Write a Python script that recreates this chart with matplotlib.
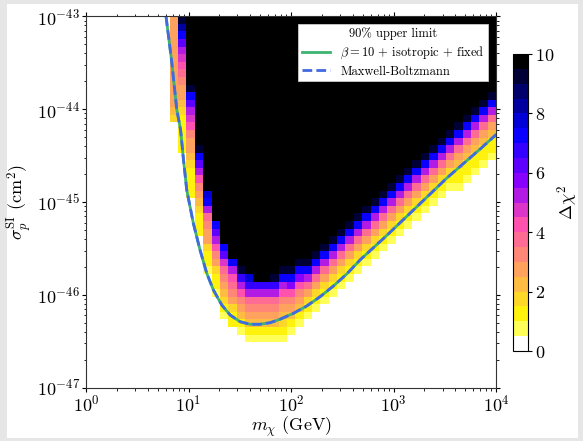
import numpy as np
import matplotlib
matplotlib.use("Agg")
import matplotlib.pyplot as plt
from matplotlib.patches import Rectangle

plt.rcParams["font.family"] = "serif"
plt.rcParams["font.serif"] = ["cmr10"]
plt.rcParams["mathtext.fontset"] = "cm"
plt.rcParams["axes.formatter.use_mathtext"] = True

# grid edges of the delta chi^2 scan
mass_edges = np.logspace(0, 4, 50)
sigma_edges = np.logspace(-47, -43, 50)

# per mass column: first coloured row and the delta chi^2 values going up,
# everything above the listed values is >= 10 (black)
P8 = [0.75, 1.25, 1.75, 2.75, 3.75, 5.25, 7.0, 9.25]
P9 = [0.75, 1.25, 1.25, 2.0, 2.75, 3.75, 5.25, 7.0, 9.25]
band_start = [-1] * 10 + [35, 31, 25, 20, 15, 12, 9, 8, 7, 6, 6, 6, 6, 6, 7, 8, 9] + \
    [i - 17 for i in range(27, 41)] + [24, 25, 26, 26, 27, 28, 29, 30]
band_vals = [[]] * 10 + [
    [1.75, 2.25] + [2.75] * 12,
    [1.25, 1.25, 1.25, 1.25, 1.25, 1.75, 2.25, 2.5, 2.75, 3.0, 3.5, 4.0, 4.75, 5.25, 6.0, 7.25, 8.25, 9.25],
    [1.25, 1.25, 1.25, 1.25, 1.5, 2.0, 2.5, 2.75, 3.25, 4.0, 4.75, 5.25, 6.0, 7.25, 9.25],
    [1.0, 1.25, 1.25, 1.5, 2.25, 2.75, 3.25, 4.0, 5.25, 6.0, 7.25, 9.25],
    [0.75, 1.25, 1.25, 1.75, 2.5, 2.75, 3.25, 3.75, 5.25, 7.0, 7.75],
    [0.75, 1.25, 1.25, 1.75, 2.5, 3.25, 4.0, 5.25, 6.0, 7.25],
    [0.75, 1.25, 1.5, 2.0, 2.5, 3.0, 3.75, 4.75, 6.0, 7.25],
    [1.0, 1.25, 1.75, 2.5, 3.0, 3.5, 4.0, 5.25, 7.25],
    [0.75, 1.25, 2.0, 2.75, 3.25, 4.0, 5.25, 6.5, 9.0],
    [0.75, 1.25, 2.0, 2.75, 3.25, 3.75, 5.25, 6.75, 7.75],
    [0.75, 1.25, 2.0, 2.75, 3.25, 3.75, 5.25, 6.75, 9.75],
    [0.75, 1.25, 2.0, 2.75, 3.25, 3.75, 5.25, 6.75, 9.75],
    [0.75, 1.25, 2.0, 2.75, 3.25, 3.75, 5.25, 6.75, 9.25],
    [0.75, 1.25, 1.75, 2.25, 2.75, 3.25, 4.0, 5.25, 7.0, 9.25],
    [0.75, 1.25, 2.0, 2.75, 3.25, 4.0, 5.5, 7.25, 9.25],
    [0.75, 1.25, 2.0, 2.75, 3.25, 4.0, 5.5, 7.25, 9.25],
] + [P8] * 18 + [P9] * 5

# 90% upper limit curve
m_lim = [6.03, 6.86, 7.67, 8.37, 8.9, 9.6, 11.14, 12.95, 15.05, 17.46, 21.09,
         25.41, 31.8, 39.8, 49.8, 62.4, 78.1, 105.3, 142.3, 191.9, 258.7, 349.5,
         471.3, 826, 1560, 3300, 6980, 10000]
sigma_lim = [1.0e-43, 3.22e-44, 1.0e-44, 5.96e-45, 2.96e-45, 1.35e-45, 5.90e-46,
             3.04e-46, 1.71e-46, 1.13e-46, 7.78e-47, 6.07e-47, 5.14e-47, 4.82e-47,
             4.82e-47, 5.01e-47, 5.46e-47, 6.32e-47, 7.59e-47, 9.55e-47, 1.245e-46,
             1.68e-46, 2.38e-46, 4.20e-46, 8.20e-46, 1.81e-45, 3.72e-45, 5.33e-45]

n = len(mass_edges) - 1
dchi2 = np.full((n, n), 12.0)
for i in range(n):
    s = band_start[i]
    if s < 0:
        dchi2[:, i] = 0.0
        continue
    dchi2[:s, i] = 0.0
    vals = band_vals[i]
    dchi2[s:s + len(vals), i] = vals[:n - s]

fig = plt.figure(figsize=(5.83, 4.41), dpi=100)
fig.patch.set_facecolor("#e6e6e6")
fig.patches.append(Rectangle((7 / 583, 3 / 441), 571 / 583, 434 / 441,
                             transform=fig.transFigure, facecolor="white",
                             edgecolor="none", zorder=-1))

ax = fig.add_axes([0.1475, 0.1209, 0.7035, 0.8421])
cmap = matplotlib.colormaps["gnuplot2_r"].resampled(20)
mesh = ax.pcolormesh(mass_edges, sigma_edges, dchi2, cmap=cmap, vmin=0, vmax=10,
                     shading="flat", rasterized=True)

ax.plot(m_lim, sigma_lim, color="mediumseagreen", lw=2.0,
        label=r"$\beta = 10$ + isotropic + fixed")
ax.plot(m_lim, sigma_lim, color="royalblue", lw=2.0, ls=(0, (3.5, 1.5)),
        label="Maxwell-Boltzmann")

ax.set_xscale("log")
ax.set_yscale("log")
ax.set_xlim(1, 1e4)
ax.set_ylim(1e-47, 1e-43)
ax.set_xlabel(r"$m_\chi$ (GeV)", fontsize=13, labelpad=0)
ax.set_ylabel(r"$\sigma_p^{\rm SI}$ (cm$^2$)", fontsize=13, labelpad=2)
ax.tick_params(which="both", direction="out", top=True, right=True, labelsize=13, pad=1.5)
ax.tick_params(which="major", length=3)
ax.tick_params(which="minor", length=1.8)
for sp in ax.spines.values():
    sp.set_color("#333333")

leg = ax.legend(loc="upper right", title="90% upper limit", fontsize=9,
                title_fontsize=9, fancybox=False, framealpha=1, edgecolor="0.8",
                handlelength=2.3, borderaxespad=0.62, borderpad=0.3,
                labelspacing=0.35)
leg.get_frame().set_linewidth(0.6)

cax = fig.add_axes([0.8805, 0.204, 0.0257, 0.6735])
cb = fig.colorbar(mesh, cax=cax, ticks=[0, 2, 4, 6, 8, 10])
cb.ax.tick_params(labelsize=13, direction="out", length=3, pad=1.5)
cb.set_label(r"$\Delta\chi^2$", fontsize=13, labelpad=1)

fig.savefig("out.png", dpi=100, facecolor=fig.get_facecolor())
